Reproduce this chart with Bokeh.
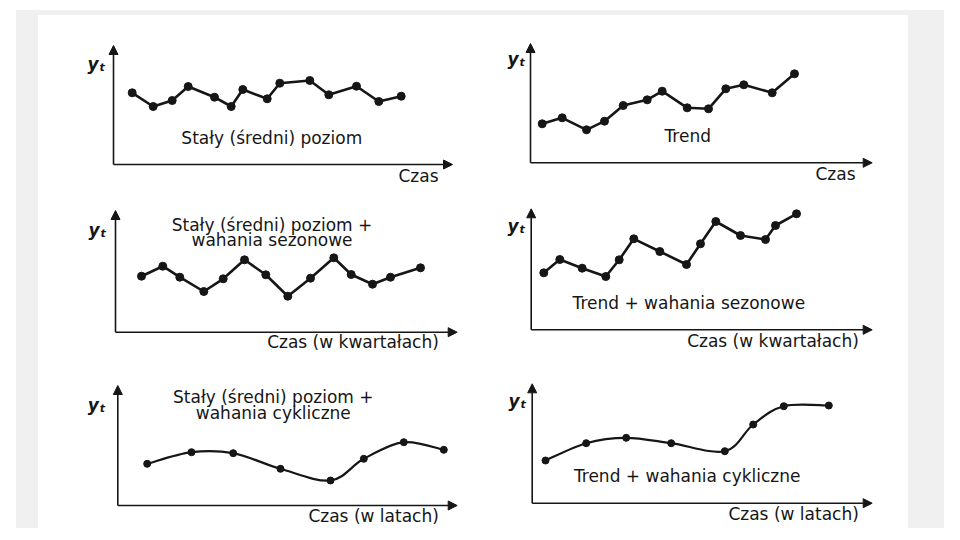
from bokeh.plotting import figure
from bokeh.models import Range1d, Arrow, NormalHead, Label, Spacer
from bokeh.layouts import row, column
from bokeh.embed import file_html
from bokeh.resources import INLINE

# ---------------- data ----------------
t1 = [18.7, 39.7, 58.7, 74.7, 101.0, 117.7, 129.3, 153.7, 166.3, 196.3, 215.3, 243.0, 265.3, 287.7]
y1 = [71.7, 58.0, 64.0, 78.0, 67.3, 58.0, 75.0, 65.7, 81.3, 84.0, 69.7, 78.3, 63.0, 68.3]

t2 = [11.7, 31.7, 56.0, 74.0, 92.7, 116.7, 131.7, 156.7, 178.0, 195.3, 213.3, 241.7, 264.0]
y2 = [39.0, 45.0, 33.0, 41.6, 57.3, 63.0, 71.6, 55.0, 54.0, 74.0, 78.0, 70.0, 89.0]

t3 = [26.0, 47.3, 64.3, 88.3, 107.7, 129.0, 150.3, 172.3, 195.0, 218.3, 235.7, 257.0, 275.0, 305.0]
y3 = [56.0, 66.0, 55.0, 40.7, 53.4, 72.4, 57.4, 36.0, 54.0, 74.4, 57.7, 48.0, 55.0, 64.4]

t4 = [12.6, 28.6, 51.0, 74.6, 88.0, 102.6, 128.6, 155.3, 169.3, 184.6, 209.3, 234.3, 244.3, 265.3]
y4 = [57.0, 70.3, 61.6, 53.3, 70.0, 91.0, 78.3, 65.3, 86.0, 108.3, 94.3, 90.3, 104.3, 116.0]

t5 = [29.4, 73.7, 115.4, 162.7, 212.7, 246.0, 286.0, 326.0]
y5 = [41.7, 53.3, 52.3, 36.7, 25.0, 46.7, 63.3, 55.7]

t6 = [13.3, 54.0, 94.0, 139.0, 192.6, 221.0, 251.6, 296.6]
y6 = [42.7, 60.0, 65.4, 60.0, 52.0, 78.7, 97.0, 97.7]

notes = [
    ["Stały (średni) poziom"],
    ["Trend"],
    ["Stały (średni) poziom +", "wahania sezonowe"],
    ["Trend + wahania sezonowe"],
    ["Stały (średni) poziom +", "wahania cykliczne"],
    ["Trend + wahania cykliczne"],
]
xlabels = ["Czas", "Czas", "Czas (w kwartałach)", "Czas (w kwartałach)",
           "Czas (w latach)", "Czas (w latach)"]
ylabel = ("y", "t")

# ---------------- styling / layout ----------------
INK = "#161616"
FONT = "DejaVu Sans"
FS = "17px"
GRAY = "#f0f0f0"


def smooth_segments(t, y):
    """Catmull-Rom control points, so bezier pieces pass through every data point."""
    n = len(t)
    P = list(zip(t, y))
    seg = dict(x0=[], y0=[], x1=[], y1=[], cx0=[], cy0=[], cx1=[], cy1=[])
    for i in range(n - 1):
        p0 = P[i - 1] if i > 0 else P[i]
        p1, p2 = P[i], P[i + 1]
        p3 = P[i + 2] if i + 2 < n else P[i + 1]
        seg["x0"].append(p1[0]); seg["y0"].append(p1[1])
        seg["x1"].append(p2[0]); seg["y1"].append(p2[1])
        seg["cx0"].append(p1[0] + (p2[0] - p0[0]) / 6); seg["cy0"].append(p1[1] + (p2[1] - p0[1]) / 6)
        seg["cx1"].append(p2[0] - (p3[0] - p1[0]) / 6); seg["cy1"].append(p2[1] - (p3[1] - p1[1]) / 6)
    return seg


def panel(w, h, xr, yr, ax_len, ay_len, t, y, kind, note, note_xy, xlab, xlab_xy, ylab_xy):
    p = figure(width=w, height=h, x_range=Range1d(*xr), y_range=Range1d(*yr),
               output_backend="svg", toolbar_location=None,
               x_axis_type=None, y_axis_type=None, min_border=0)
    p.outline_line_color = None
    p.background_fill_color = "white"
    p.border_fill_color = "white"
    head = dict(size=9, fill_color=INK, line_color=INK, line_width=1)
    p.add_layout(Arrow(end=NormalHead(**head), x_start=0, y_start=0, x_end=ax_len, y_end=0,
                       line_width=1.6, line_color=INK))
    p.add_layout(Arrow(end=NormalHead(**head), x_start=0, y_start=0, x_end=0, y_end=ay_len,
                       line_width=1.6, line_color=INK))
    if kind == "line":
        p.line(t, y, line_width=2.6, line_color=INK)
        p.scatter(t, y, size=8, fill_color=INK, line_color=INK)
    else:
        s = smooth_segments(t, y)
        p.bezier(x0=s["x0"], y0=s["y0"], x1=s["x1"], y1=s["y1"],
                 cx0=s["cx0"], cy0=s["cy0"], cx1=s["cx1"], cy1=s["cy1"],
                 line_width=2.2, line_color=INK)
        p.scatter(t, y, size=7, fill_color=INK, line_color=INK)
    nx, ny = note_xy
    for i, line in enumerate(note):
        p.add_layout(Label(x=nx, y=ny - i * 15.5, text=line, text_font=FONT, text_font_size=FS,
                           text_align="center", text_baseline="middle", text_color=INK))
    p.add_layout(Label(x=xlab_xy[0], y=xlab_xy[1], text=xlab, text_font=FONT, text_font_size=FS,
                       text_align="right", text_baseline="middle", text_color=INK))
    p.add_layout(Label(x=ylab_xy[0], y=ylab_xy[1], text=ylabel[0], text_font=FONT,
                       text_font_size="17px", text_font_style="bold italic",
                       text_align="left", text_baseline="middle", text_color=INK))
    p.add_layout(Label(x=ylab_xy[0] + 12, y=ylab_xy[1] - 4, text=ylabel[1], text_font=FONT,
                       text_font_size="11px", text_font_style="bold italic",
                       text_align="left", text_baseline="middle", text_color=INK))
    return p


p1 = panel(435, 175, (-75, 360), (-26, 149), 339, 119, t1, y1, "line",
           notes[0], (158.3, 27), xlabels[0], (325, -11), (-26, 101))
p2 = panel(435, 175, (-57, 378), (-27.7, 147.3), 341.7, 119.3, t2, y2, "line",
           notes[1], (157.2, 27.3), xlabels[1], (325, -11), (-23, 104))
p3 = panel(435, 170, (-77, 358), (-28.3, 141.7), 341.7, 121.7, t3, y3, "line",
           notes[2], (156.5, 107.4), xlabels[2], (323.3, -10), (-27, 102.7))
p4 = panel(435, 170, (-57.7, 377.3), (-30.7, 139.3), 341, 121, t4, y4, "line",
           notes[3], (157.6, 27), xlabels[3], (327.6, -11.4), (-23.7, 104.3))
p5 = panel(435, 168, (-79.3, 355.7), (-23, 145), 339.4, 120, t5, y5, "curve",
           notes[4], (155.5, 108.3), xlabels[4], (321, -10.7), (-30, 101))
p6 = panel(435, 168, (-58.7, 376.3), (-25.3, 142.7), 340, 119.4, t6, y6, "curve",
           notes[5], (155, 27.7), xlabels[5], (326.6, -10.6), (-23.7, 102.7))


def block(w, h, color):
    return Spacer(width=w, height=h, styles={"background-color": color})


grid = column(row(p1, p2), row(p3, p4), row(p5, p6))
inner = column(block(928, 5, GRAY), row(block(22, 513, GRAY), grid, block(36, 513, GRAY)))
layout = column(Spacer(width=944, height=10), row(Spacer(width=16, height=518), inner))

open("out.html", "w").write(file_html(layout, INLINE))
